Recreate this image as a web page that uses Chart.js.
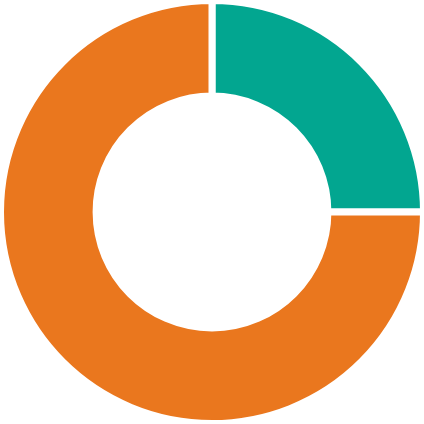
<!DOCTYPE html>
<html>
<head>
<meta charset="utf-8">
<script src="https://cdn.jsdelivr.net/npm/chart.js@4"></script>
<style>
html,body{margin:0;padding:0;background:#fff;overflow:hidden;}
#wrap{position:absolute;left:-3px;top:-3px;width:430px;height:430px;}
</style>
</head>
<body>
<div id="wrap"><canvas id="c"></canvas></div>
<script>
const categories = ["A", "B"];
const values = [25, 75];
const colors = ["#02A690", "#EA771E"];

new Chart(document.getElementById('c'), {
  type: 'doughnut',
  data: {
    labels: categories,
    datasets: [{
      data: values,
      backgroundColor: colors,
      borderColor: '#ffffff',
      borderWidth: 7
    }]
  },
  options: {
    responsive: true,
    maintainAspectRatio: false,
    animation: false,
    cutout: '54.8%',
    layout: { padding: 0 },
    plugins: { legend: { display: false }, tooltip: { enabled: false } }
  }
});
</script>
</body>
</html>
